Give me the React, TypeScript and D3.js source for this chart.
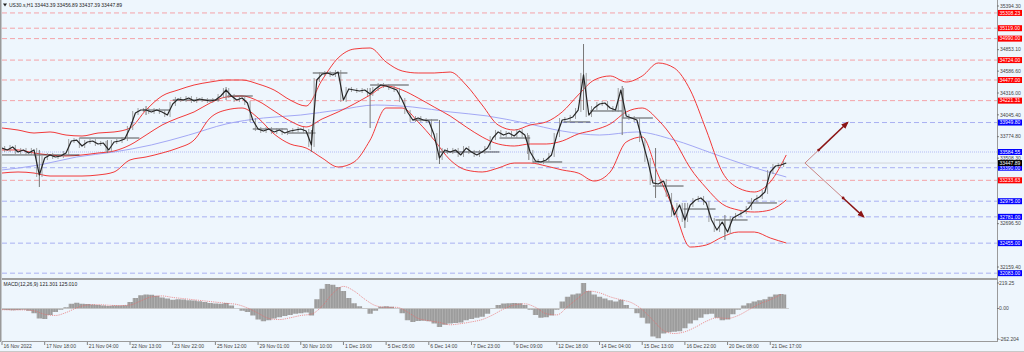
import React from 'react';
import * as d3 from 'd3';

// ---------- DATA ----------
const symbolTitle = 'US30.s,H1  33443.39 33456.89 33437.39 33447.89';
const macdTitle = 'MACD(12,26,9) 121.301 125.010';

// time axis labels (one every 32 H1 bars)
const timeLabels = [
  '16 Nov 2022', '17 Nov 18:00', '21 Nov 04:00', '22 Nov 13:00', '23 Nov 22:00',
  '25 Nov 12:00', '29 Nov 01:00', '30 Nov 10:00', '1 Dec 19:00', '5 Dec 05:00',
  '6 Dec 14:00', '7 Dec 23:00', '9 Dec 09:00', '12 Dec 18:00', '14 Dec 04:00',
  '15 Dec 13:00', '16 Dec 22:00', '20 Dec 08:00', '21 Dec 17:00',
];
const barsPerLabel = 32;
const totalBarsVisible = 746;

// closes sampled every 4 bars
const closeStep = 4;
const closes = [
  33634, 33610, 33647, 33585, 33610, 33572, 33610, 33300, 33510, 33548,
  33523, 33535, 33572, 33721, 33733, 33659, 33709, 33721, 33684, 33696,
  33610, 33709, 33721, 33746, 33882, 34068, 34105, 34105, 34081, 34105,
  34081, 34043, 34180, 34242, 34229, 34254, 34217, 34242, 34229, 34217,
  34229, 34279, 34353, 34279, 34229, 34254, 34192, 33981, 33870, 33845,
  33870, 33833, 33857, 33820, 33845, 33857, 33870, 33845, 33672, 34477,
  34551, 34564, 34539, 34576, 34229, 34366, 34353, 34341, 34353, 34304,
  34366, 34415, 34403, 34378, 34353, 34229, 34081, 33981, 34006, 33981,
  33969, 33795, 33510, 33610, 33585, 33610, 33548, 33634, 33585, 33548,
  33585, 33634, 33758, 33833, 33795, 33820, 33783, 33845, 33795, 33585,
  33473, 33461, 33486, 33548, 33795, 33981, 33994, 34019, 34105, 34540,
  34043, 34130, 34180, 34192, 34130, 34105, 34353, 34031, 34006, 33981,
  33733, 33486, 33201, 33188, 33225, 33052, 32804, 32928, 32742, 32928,
  32990, 33015, 32953, 32742, 32618, 32717, 32593, 32767, 32804, 32841,
  32891, 32990, 33027, 33089, 33337, 33411, 33424, 33448,
];

// notable wicks: [bar, high, low]
const wicks = [
  [28, 33610, 33151], [79, 33733, 33572], [108, 34155, 34043], [168, 34390, 34229],
  [232, 33857, 33585], [276, 34378, 33882], [328, 33981, 33436], [395, 33795, 33486],
  [436, 34923, 34105], [465, 34403, 33795], [490, 33634, 33015], [512, 32953, 32643],
  [542, 32804, 32494],
];

// daily reference segments: [startBar, endBar, price]
const sessionLines = [
  [0, 23, 33548], [23, 58, 33548], [58, 103, 33758], [106, 126, 34105], [128, 163, 34229],
  [169, 188, 34279], [188, 214, 33870], [214, 235, 33820], [233, 259, 34564],
  [276, 305, 34415], [308, 327, 33981], [328, 373, 33585], [373, 396, 33758],
  [398, 420, 33461], [421, 441, 33957], [441, 465, 34093], [465, 488, 34006],
  [488, 511, 33163], [511, 535, 32878], [535, 559, 32742], [559, 581, 32953],
];

// Bollinger bands sampled every 12 bars
const bbStep = 12;
const bbUpper = [
  33882, 33857, 33820, 33833, 33795, 33783, 33820, 33833, 33882, 34105,
  34279, 34353, 34415, 34452, 34477, 34477, 34428, 34353, 34229, 34155,
  34477, 34750, 34861, 34874, 34700, 34589, 34564, 34564, 34576, 34415,
  34167, 33919, 33857, 33919, 33957, 34081, 34291, 34477, 34527, 34452,
  34527, 34688, 34626, 34353, 33857, 33337, 33139, 33089, 33213, 33548,
];
const bbMiddle = [
  33610, 33610, 33572, 33548, 33535, 33548, 33572, 33597, 33672, 33795,
  33919, 34006, 34081, 34192, 34266, 34279, 34217, 34093, 33969, 33895,
  33994, 34081, 34180, 34291, 34403, 34353, 34254, 34142, 34031, 33895,
  33771, 33684, 33659, 33684, 33684, 33721, 33808, 33857, 33932, 34081,
  34130, 33981, 33733, 33386, 33139, 32940, 32866, 32841, 32866, 32990,
];
const bbLower = [
  33324, 33337, 33324, 33287, 33287, 33287, 33300, 33337, 33486, 33523,
  33572, 33634, 33733, 34006, 34105, 34130, 34006, 33808, 33684, 33634,
  33510, 33399, 33461, 33733, 34130, 34130, 33957, 33733, 33486, 33362,
  33337, 33386, 33448, 33448, 33411, 33362, 33324, 33225, 33337, 33709,
  33771, 33300, 32866, 32407, 32432, 32531, 32593, 32593, 32519, 32457,
];

// slow moving average sampled every 28 bars
const maStep = 28;
const maValues = [
  33362, 33424, 33523, 33585, 33672, 33795, 33932, 34006, 34043, 34105,
  34167, 34142, 34081, 34031, 33944, 33845, 33795, 33833, 33733, 33572,
  33411, 33275,
];

// horizontal levels
const redLevels = [35308.23, 35119.0, 34990.0, 34724.0, 34477.0, 34221.31, 33233.63];
const blueLevels = [33949.8, 33390.0, 32975.0, 32781.0, 32455.0, 32083.0];
const dottedLevel = 33584.55;
const currentPrice = 33447.89;
const priceTicks = [35394.3, 34853.1, 34586.6, 34316.0, 34045.4, 33774.8, 33508.3, 32696.5, 32159.4];

// projection arrows
const arrowOrigin = { bar: 602, price: 33447.89 };
const arrowTargets = [
  { bar: 634, price: 33949.8, mid: 0.32 },
  { bar: 646, price: 32781.0, mid: 0.65 },
];

// MACD histogram sampled every 4 bars, signal every 8 bars
const macdStep = 4;
const macdHist = [
  -10, -12, -15, -12, -10, -20, -40, -85, -90, -55,
  -30, -10, 10, 40, 50, 40, 38, 35, 30, 25,
  22, 25, 25, 28, 55, 90, 115, 120, 118, 110,
  95, 85, 75, 80, 78, 72, 68, 62, 55, 48,
  42, 40, 48, 25, 0, -20, -30, -60, -95, -110,
  -100, -85, -75, -65, -55, -45, -40, -35, -60, 80,
  170, 210, 205, 185, 150, 90, 45, 20, 5, -45,
  -20, 15, 20, 15, 0, -40, -100, -115, -108, -105,
  -110, -130, -160, -140, -130, -125, -120, -100, -90, -80,
  -70, -45, -5, 30, 42, 45, 48, 45, 30, -10,
  -55, -80, -75, -60, -10, 60, 100, 120, 130, 219,
  150, 120, 100, 85, 70, 60, 75, 30, 0, -40,
  -80, -130, -240, -255, -215, -205, -200, -195, -170, -130,
  -100, -80, -50, -45, -80, -100, -95, -50, -10, 25,
  45, 60, 70, 80, 100, 120, 125, 121,
];
const signalStep = 8;
const macdSignal = [
  -10, -12, -12, -20, -50, -60, -35, 5, 30, 33,
  28, 25, 30, 65, 100, 108, 95, 85, 75, 65,
  55, 45, 35, 5, -40, -85, -95, -80, -60, -48,
  20, 130, 190, 150, 80, 25, 10, 10, -30, -85,
  -105, -120, -140, -130, -115, -95, -55, -5, 30, 40,
  10, -45, -55, 15, 90, 150, 135, 100, 75, 50,
  -10, -100, -190, -215, -200, -160, -110, -80, -85, -60,
  -10, 40, 75, 120,
];
const macdTicks = [219.25, 0.0, -262.204];

// ---------- LAYOUT ----------
const W = 1024;
const H = 352;
const PL = 2;
const PR = 997;
const MAIN_B = 278;
const MACD_T = 280;
const MACD_B = 341;
const FONT = '"Liberation Sans", Arial, sans-serif';
const FS = 5;
const BOX_W = 24;
const BOX_H = 6;

export default function App() {
  const x = d3.scaleLinear().domain([0, totalBarsVisible]).range([PL, PR]);
  const y = d3.scaleLinear().domain([32159.4, 35394.3]).range([267, 6]);
  const ym = d3.scaleLinear().domain([-262.204, 219.25]).range([339, 283]);
  const barW = x(1) - x(0);

  const priceLine = d3.line<number>().x((_, i) => x(i * closeStep)).y((d) => y(d));
  const bbLine = d3.line<number>().x((_, i) => x(i * bbStep)).y((d) => y(d)).curve(d3.curveMonotoneX);
  const maLine = d3.line<number>().x((_, i) => x(i * maStep)).y((d) => y(d)).curve(d3.curveMonotoneX);
  const sigLine = d3.line<number>().x((_, i) => x(i * signalStep)).y((d) => ym(d)).curve(d3.curveMonotoneX);
  const histArea = d3
    .area<number>()
    .x((_, i) => x(i * macdStep))
    .y0(ym(0))
    .y1((d) => ym(d))
    .curve(d3.curveStep);

  const ox = x(arrowOrigin.bar);
  const oy = y(arrowOrigin.price);

  const boxes = [
    ...redLevels.map((v) => ({ v, fill: '#ff0000' })),
    ...blueLevels.map((v) => ({ v, fill: '#0000ff' })),
    { v: dottedLevel, fill: '#0000ff' },
    { v: currentPrice, fill: '#000000' },
  ];

  return (
    <svg width={W} height={H} style={{ position: 'fixed', left: 0, top: 0, display: 'block' }} fontFamily={FONT}>
      <defs>
        <clipPath id="mainClip"><rect x={PL} y={0} width={PR - PL} height={MAIN_B} /></clipPath>
        <clipPath id="macdClip"><rect x={PL} y={MACD_T} width={PR - PL} height={MACD_B - MACD_T} /></clipPath>
        <pattern id="stripes" patternUnits="userSpaceOnUse" x={PL} y={0} width={barW * 2} height={4}>
          <rect width={barW * 2} height={4} fill="#9c9c9c" />
          <rect width={barW * 0.6} height={4} fill="#b2b2b2" />
        </pattern>
        <marker id="ah" viewBox="0 0 10 10" refX="8" refY="5" markerWidth="5" markerHeight="5" orient="auto">
          <path d="M0,1 L10,5 L0,9 z" fill="#8b1414" />
        </marker>
      </defs>
      <rect x={0} y={0} width={W} height={H} fill="#eef6fd" />

      {/* main pane */}
      <g clipPath="url(#mainClip)">
        {redLevels.map((v) => (
          <line key={'r' + v} x1={PL} x2={PR} y1={y(v)} y2={y(v)} stroke="#f4a3a8" strokeWidth={1} strokeDasharray="5 3" />
        ))}
        {blueLevels.map((v) => (
          <line key={'b' + v} x1={PL} x2={PR} y1={y(v)} y2={y(v)} stroke="#a9b0f2" strokeWidth={1} strokeDasharray="5 3" />
        ))}
        <line x1={PL} x2={PR} y1={y(dottedLevel)} y2={y(dottedLevel)} stroke="#b4bcf6" strokeWidth={1} strokeDasharray="1 1" />
        <line x1={PL} x2={PR} y1={y(currentPrice)} y2={y(currentPrice)} stroke="#d3d6da" strokeWidth={1} />

        <path d={maLine(maValues) || ''} fill="none" stroke="#a3a8f5" strokeWidth={1} />
        <path d={bbLine(bbUpper) || ''} fill="none" stroke="#f23a3a" strokeWidth={1} />
        <path d={bbLine(bbMiddle) || ''} fill="none" stroke="#f23a3a" strokeWidth={1} />
        <path d={bbLine(bbLower) || ''} fill="none" stroke="#f23a3a" strokeWidth={1} />

        {sessionLines.map(([a, b, p], i) => (
          <line key={'s' + i} x1={x(a)} x2={x(b)} y1={y(p)} y2={y(p)} stroke="#2a2a2a" strokeWidth={0.8} />
        ))}
        {wicks.map(([b, hi, lo], i) => (
          <line key={'w' + i} x1={x(b)} x2={x(b)} y1={y(hi)} y2={y(lo)} stroke="#777" strokeWidth={1} />
        ))}
        {closes.map((c, i) => {
          if (i === 0) return null;
          const p = closes[i - 1];
          const hi = Math.max(c, p);
          const lo = Math.min(c, p);
          return (
            <line key={'v' + i} x1={x(i * closeStep - 2)} x2={x(i * closeStep - 2)} y1={y(hi) - 2} y2={y(lo) + 2} stroke="#8a8a8a" strokeWidth={0.8} />
          );
        })}
        <path d={priceLine(closes) || ''} fill="none" stroke="#262626" strokeWidth={1.2} strokeLinejoin="round" />

        {arrowTargets.map((t, i) => {
          const tx = x(t.bar);
          const ty = y(t.price);
          const mx = ox + (tx - ox) * t.mid;
          const my = oy + (ty - oy) * t.mid;
          return (
            <g key={'a' + i}>
              <line x1={ox} y1={oy} x2={mx} y2={my} stroke="#c98585" strokeWidth={1} />
              <line x1={mx} y1={my} x2={tx} y2={ty} stroke="#8b1414" strokeWidth={1.5} markerEnd="url(#ah)" />
              <circle cx={mx} cy={my} r={1.4} fill="#8b1414" />
            </g>
          );
        })}
      </g>

      {/* title */}
      <path d="M3,3.5 L7,3.5 L5,6.5 Z" fill="#222" />
      <text x={9} y={6.8} fontSize={FS} fill="#222">{symbolTitle}</text>

      {/* MACD pane */}
      <g clipPath="url(#macdClip)">
        <path d={histArea(macdHist) || ''} fill="url(#stripes)" stroke="none" />
        <line x1={x(-2)} x2={x(590)} y1={ym(0)} y2={ym(0)} stroke="#c4c4c4" strokeWidth={0.8} />
        <path d={sigLine(macdSignal) || ''} fill="none" stroke="#e86a6a" strokeWidth={0.7} strokeDasharray="1.2 1" />
      </g>
      <text x={3.5} y={286} fontSize={FS} fill="#222">{macdTitle}</text>

      {/* frames */}
      <line x1={0.5} x2={0.5} y1={0} y2={MACD_B + 1} stroke="#9a9a9a" strokeWidth={2} />
      <line x1={PL} x2={PR} y1={MAIN_B + 1} y2={MAIN_B + 1} stroke="#a0a0a0" strokeWidth={2} />
      <line x1={PL} x2={PR} y1={MACD_B + 0.5} y2={MACD_B + 0.5} stroke="#9a9a9a" strokeWidth={1} />
      <line x1={PR + 0.5} x2={PR + 0.5} y1={0} y2={MACD_B + 1} stroke="#9a9a9a" strokeWidth={1} />
      <line x1={0} x2={W} y1={H - 0.5} y2={H - 0.5} stroke="#c8c8c8" strokeWidth={1} />

      {/* price axis */}
      {priceTicks.map((v) => (
        <g key={'t' + v}>
          <line x1={PR} x2={PR + 2} y1={y(v)} y2={y(v)} stroke="#666" strokeWidth={0.8} />
          <text x={PR + 3} y={y(v) + 1.8} fontSize={FS} fill="#444">{v.toFixed(2)}</text>
        </g>
      ))}
      {boxes.map((b) => (
        <g key={'bx' + b.v}>
          <rect x={PR + 1} y={y(b.v) - BOX_H / 2} width={BOX_W} height={BOX_H} fill={b.fill} />
          <text x={PR + 2.5} y={y(b.v) + 1.8} fontSize={FS} fill="#fff">{b.v.toFixed(2)}</text>
        </g>
      ))}

      {/* MACD axis */}
      {macdTicks.map((v) => (
        <g key={'m' + v}>
          <line x1={PR} x2={PR + 2} y1={ym(v)} y2={ym(v)} stroke="#666" strokeWidth={0.8} />
          <text x={PR + 2} y={ym(v) + 1.8} fontSize={FS} fill="#444">{v === 0 ? '0.00' : String(v)}</text>
        </g>
      ))}

      {/* time axis */}
      {timeLabels.map((t, i) => (
        <g key={'x' + i}>
          <line x1={x(i * barsPerLabel)} x2={x(i * barsPerLabel)} y1={MACD_B + 1} y2={MACD_B + 4} stroke="#666" strokeWidth={0.8} />
          <text x={x(i * barsPerLabel) + 1.5} y={348} fontSize={FS} fill="#444">{t}</text>
        </g>
      ))}
    </svg>
  );
}
